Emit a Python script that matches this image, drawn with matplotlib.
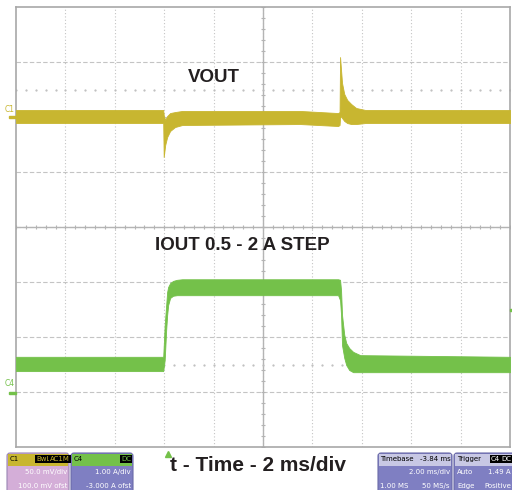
import matplotlib.pyplot as plt
import numpy as np
from matplotlib.patches import FancyBboxPatch, Rectangle

# time in ms (trigger at 0) at 2 ms/div
t_vout = [-6.16, -0.20, -0.18, -0.12, -0.04, 0.08, 0.28, 0.57, 5.34, 6.88, 6.94,
          6.96, 7.00, 7.04, 7.13, 7.25, 7.41, 7.61, 7.98, 13.84]
# VOUT envelope, mV around the AC level (50 mV/div)
vout_hi = [6.4, 6.4, 1.8, -2.7, 0.9, 3.6, 4.5, 5.5, 5.5, 3.6, 4.5,
           54.5, 42.7, 30.9, 20.9, 15.5, 11.8, 8.2, 6.4, 6.4]
vout_lo = [-5.5, -5.5, -36.4, -25.5, -18.2, -12.7, -9.1, -7.3, -6.4, -8.2, -7.3,
           -0.9, 0.9, -0.9, -3.6, -5.5, -6.4, -6.4, -5.5, -5.5]

t_iout = [-6.16, -0.20, -0.14, -0.08, -0.04, 0.0, 0.08, 0.20, 0.36, 0.57, 6.88,
          6.96, 7.00, 7.04, 7.13, 7.21, 7.33, 7.49, 7.78, 13.84]
# IOUT envelope, A (1 A/div)
iout_hi = [0.64, 0.64, 1.22, 1.58, 1.82, 1.91, 1.98, 2.02, 2.04, 2.05, 2.05,
           2.04, 1.85, 1.40, 1.04, 0.89, 0.80, 0.73, 0.67, 0.64]
iout_lo = [0.38, 0.38, 0.58, 1.13, 1.40, 1.58, 1.71, 1.75, 1.76, 1.76, 1.76,
           1.67, 1.40, 0.85, 0.62, 0.49, 0.40, 0.36, 0.36, 0.36]

c1_pos = 2.0    # divisions, VOUT zero level
c4_pos = -3.0   # divisions, 0 A level

yellow = "#c8b630"
green = "#74c14a"
gridc = "#c4c4c4"

fig = plt.figure(figsize=(5.12, 4.9), dpi=100)
W, H = 512, 490
ax = fig.add_axes([16 / W, 1 - 447 / H, 494 / W, 440 / H])
t0, t1 = -6.16, 13.84
ax.set_xlim(t0, t1)
ax.set_ylim(-4, 4)
ax.set_xticks([])
ax.set_yticks([])
for s in ax.spines.values():
    s.set_color("#a8a8a8")
    s.set_linewidth(1.2)

# graticule
for k in range(1, 10):
    ax.axvline(t0 + 2 * k, color=gridc, lw=0.8, ls=(0, (1, 2)), zorder=0)
for k in range(-3, 4):
    ax.axhline(k, color=gridc, lw=0.8, ls=(0, (4, 2)), zorder=0)
ax.axhline(0, color="#b4b4b4", lw=1.0, zorder=0)
ax.axvline(t0 + 10, color="#b4b4b4", lw=1.0, zorder=0)
xt = np.arange(t0, t1 + 0.01, 0.4)
ax.plot(xt, np.zeros_like(xt), ls="none", marker="|", ms=3, mew=0.8, color="#b4b4b4", zorder=0)
yt = np.arange(-4, 4.01, 0.2)
ax.plot(np.full_like(yt, t0 + 10), yt, ls="none", marker="_", ms=3, mew=0.8, color="#b4b4b4", zorder=0)
for lev in (2.5, -2.5):
    ax.plot(xt, np.full_like(xt, lev), ls="none", marker=".", ms=1.2, color="#bcbcbc", zorder=0)

# traces
ax.fill_between(t_vout, c1_pos + np.array(vout_lo) / 50, c1_pos + np.array(vout_hi) / 50,
                color=yellow, lw=0.6, ec=yellow, zorder=3)
ax.fill_between(t_iout, c4_pos + np.array(iout_lo), c4_pos + np.array(iout_hi),
                color=green, lw=0.6, ec=green, zorder=3)

ax.text(1.86, 2.71, "VOUT", fontsize=13.5, fontweight="bold", color="#231f20",
        ha="center", va="center", family="Liberation Sans")
ax.text(3.0, -0.33, "IOUT 0.5 - 2 A STEP", fontsize=13.5, fontweight="bold", color="#231f20",
        ha="center", va="center", family="Liberation Sans")

# channel markers at the left edge
fig.text(5 / W, 1 - 109 / H, "C1", fontsize=5.5, color=yellow, va="center")
fig.text(5 / W, 1 - 384 / H, "C4", fontsize=5.5, color=green, va="center")
fig.add_artist(Rectangle((9 / W, 1 - 118.5 / H), 7 / W, 2 / H, color=yellow, transform=fig.transFigure))
fig.add_artist(Rectangle((9 / W, 1 - 393.5 / H), 7 / W, 2 / H, color=green, transform=fig.transFigure))
fig.add_artist(Rectangle((510 / W, 1 - 310.5 / H), 2 / W, 1.5 / H, color=green, transform=fig.transFigure))
ax.plot([0.0], [-4.12], marker="^", ms=5, color=green, clip_on=False, zorder=5)

fig.text(258.5 / W, 1 - 465 / H, "t - Time - 2 ms/div", fontsize=15, fontweight="bold",
         color="#231f20", ha="center", va="center", family="Liberation Sans")

# scope info boxes
small = dict(fontsize=5, family=["Liberation Sans Narrow", "DejaVu Sans"])


def box(x0, x1, head_col, body_col, edge):
    fig.add_artist(FancyBboxPatch((x0 / W, 1 - 500 / H), (x1 - x0) / W, 47 / H,
                                  boxstyle="round,pad=0,rounding_size=0.006",
                                  fc=body_col, ec=edge, lw=0.8, transform=fig.transFigure))
    fig.add_artist(Rectangle((x0 / W + 0.001, 1 - 466 / H), (x1 - x0) / W - 0.002, 12.5 / H,
                             fc=head_col, ec="none", transform=fig.transFigure))


def tag(x, y, s, fg):
    fig.text(x / W, 1 - y / H, s, color=fg, va="center", ha="left",
             bbox=dict(boxstyle="square,pad=0.1", fc="black", ec="none"), **small)


box(7, 69, yellow, "#d4aed8", "#9a86b4")
fig.text(10 / W, 1 - 459 / H, "C1", color="black", va="center", **small)
tag(36, 459, "BwL", yellow)
tag(50, 459, "AC1M", yellow)
fig.text(67 / W, 1 - 472 / H, "50.0 mV/div", color="white", ha="right", va="center", **small)
fig.text(67 / W, 1 - 486 / H, "100.0 mV ofst", color="white", ha="right", va="center", **small)

box(71, 133, green, "#7f7fc2", "#6a6aa8")
fig.text(74 / W, 1 - 459 / H, "C4", color="black", va="center", **small)
tag(121, 459, "DC", green)
fig.text(131 / W, 1 - 472 / H, "1.00 A/div", color="white", ha="right", va="center", **small)
fig.text(131 / W, 1 - 486 / H, "-3.000 A ofst", color="white", ha="right", va="center", **small)

box(378, 452, "#c8c8e4", "#7f7fc2", "#6a6aa8")
fig.text(380 / W, 1 - 459 / H, "Timebase", color="black", va="center", **small)
fig.text(451 / W, 1 - 459 / H, "-3.84 ms", color="black", ha="right", va="center", **small)
fig.text(450 / W, 1 - 472 / H, "2.00 ms/div", color="white", ha="right", va="center", **small)
fig.text(380 / W, 1 - 486 / H, "1.00 MS", color="white", va="center", **small)
fig.text(450 / W, 1 - 486 / H, "50 MS/s", color="white", ha="right", va="center", **small)

box(454, 516, "#c8c8e4", "#7f7fc2", "#6a6aa8")
fig.text(457 / W, 1 - 459 / H, "Trigger", color="black", va="center", **small)
tag(491, 459, "C4", "white")
tag(501, 459, "DC", "white")
fig.text(457 / W, 1 - 472 / H, "Auto", color="white", va="center", **small)
fig.text(511 / W, 1 - 472 / H, "1.49 A", color="white", ha="right", va="center", **small)
fig.text(457 / W, 1 - 486 / H, "Edge", color="white", va="center", **small)
fig.text(511 / W, 1 - 486 / H, "Positive", color="white", ha="right", va="center", **small)

fig.savefig("out.png", dpi=100)
